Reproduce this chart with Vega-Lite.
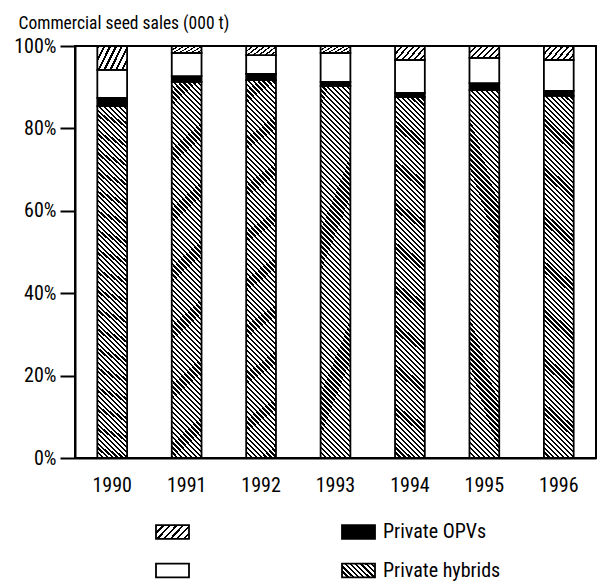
{
  "$schema": "https://vega.github.io/schema/vega-lite/v6.json",
  "width": 521,
  "height": 412,
  "autosize": "none",
  "padding": {"left": 75, "top": 46, "right": 5, "bottom": 125},
  "background": "white",
  "config": {
    "view": {"stroke": "#000", "strokeWidth": 2},
    "font": "Roboto Condensed, DejaVu Sans Condensed, sans-serif"
  },
  "data": {
    "values": [
      {"year": "1990", "series": "Private hybrids", "share": 85.4},
      {"year": "1990", "series": "Private OPVs", "share": 2.0},
      {"year": "1990", "series": "Other seed", "share": 6.8},
      {"year": "1990", "series": "Other hybrids", "share": 5.8},
      {"year": "1991", "series": "Private hybrids", "share": 91.3},
      {"year": "1991", "series": "Private OPVs", "share": 1.4},
      {"year": "1991", "series": "Other seed", "share": 5.6},
      {"year": "1991", "series": "Other hybrids", "share": 1.7},
      {"year": "1992", "series": "Private hybrids", "share": 91.7},
      {"year": "1992", "series": "Private OPVs", "share": 1.5},
      {"year": "1992", "series": "Other seed", "share": 4.6},
      {"year": "1992", "series": "Other hybrids", "share": 2.2},
      {"year": "1993", "series": "Private hybrids", "share": 90.3},
      {"year": "1993", "series": "Private OPVs", "share": 1.0},
      {"year": "1993", "series": "Other seed", "share": 7.0},
      {"year": "1993", "series": "Other hybrids", "share": 1.7},
      {"year": "1994", "series": "Private hybrids", "share": 87.6},
      {"year": "1994", "series": "Private OPVs", "share": 1.0},
      {"year": "1994", "series": "Other seed", "share": 8.0},
      {"year": "1994", "series": "Other hybrids", "share": 3.4},
      {"year": "1995", "series": "Private hybrids", "share": 89.3},
      {"year": "1995", "series": "Private OPVs", "share": 1.7},
      {"year": "1995", "series": "Other seed", "share": 6.1},
      {"year": "1995", "series": "Other hybrids", "share": 2.9},
      {"year": "1996", "series": "Private hybrids", "share": 87.9},
      {"year": "1996", "series": "Private OPVs", "share": 1.2},
      {"year": "1996", "series": "Other seed", "share": 7.5},
      {"year": "1996", "series": "Other hybrids", "share": 3.4}
    ]
  },
  "encoding": {
    "x": {
      "field": "year",
      "type": "ordinal",
      "scale": {"paddingInner": 0.6, "paddingOuter": 0.3},
      "axis": {
        "labelAngle": 0,
        "ticks": false,
        "domainColor": "#000",
        "domainWidth": 2,
        "labelFontSize": 20,
        "labelColor": "#000",
        "labelPadding": 17,
        "title": null
      }
    },
    "y": {
      "field": "share",
      "type": "quantitative",
      "stack": "normalize",
      "axis": {
        "format": ".0%",
        "values": [0, 0.2, 0.4, 0.6, 0.8, 1],
        "tickSize": 15,
        "tickWidth": 2,
        "tickColor": "#000",
        "domainColor": "#000",
        "domainWidth": 2,
        "labelFontSize": 20,
        "labelColor": "#000",
        "labelPadding": 4,
        "grid": false,
        "title": "Commercial seed sales (000 t)",
        "titleAngle": 0,
        "titleAlign": "left",
        "titleBaseline": "alphabetic",
        "titleX": -57,
        "titleY": -18,
        "titleFontSize": 17.5,
        "titleFontWeight": "normal",
        "titleColor": "#000"
      }
    },
    "order": {"field": "series", "sort": "descending"}
  },
  "layer": [
    {
      "mark": {"type": "bar", "stroke": "#000", "strokeWidth": 1.8},
      "encoding": {
        "color": {
          "field": "series",
          "type": "nominal",
          "scale": {
            "domain": ["Other hybrids", "Other seed", "Private OPVs", "Private hybrids"],
            "range": ["url(#oth)", "#ffffff", "#000000", "url(#hybleg)"]
          },
          "condition": [
            {"test": "datum.series === 'Other hybrids'", "value": {"gradient": "linear", "id": "oth", "x1": 0, "y1": 0, "x2": 1.2069, "y2": 0.48276, "stops": [
                {"offset": 0, "color": "#000"}, {"offset": 0.05, "color": "#000"}, {"offset": 0.05, "color": "#fff"}, {"offset": 0.142857, "color": "#fff"},
                {"offset": 0.142857, "color": "#000"}, {"offset": 0.192857, "color": "#000"}, {"offset": 0.192857, "color": "#fff"}, {"offset": 0.285714, "color": "#fff"},
                {"offset": 0.285714, "color": "#000"}, {"offset": 0.335714, "color": "#000"}, {"offset": 0.335714, "color": "#fff"}, {"offset": 0.428571, "color": "#fff"},
                {"offset": 0.428571, "color": "#000"}, {"offset": 0.478571, "color": "#000"}, {"offset": 0.478571, "color": "#fff"}, {"offset": 0.571429, "color": "#fff"},
                {"offset": 0.571429, "color": "#000"}, {"offset": 0.621429, "color": "#000"}, {"offset": 0.621429, "color": "#fff"}, {"offset": 0.714286, "color": "#fff"},
                {"offset": 0.714286, "color": "#000"}, {"offset": 0.764286, "color": "#000"}, {"offset": 0.764286, "color": "#fff"}, {"offset": 0.857143, "color": "#fff"},
                {"offset": 0.857143, "color": "#000"}, {"offset": 0.907143, "color": "#000"}, {"offset": 0.907143, "color": "#fff"}, {"offset": 1, "color": "#fff"}
              ]}},
            {"test": "datum.series === 'Private hybrids'", "value": {"gradient": "linear", "id": "hyb", "x1": 0, "y1": 1, "x2": 0.08784, "y2": -0.07458, "stops": [
                {"offset": 0, "color": "#000"}, {"offset": 0.005625, "color": "#000"}, {"offset": 0.005625, "color": "#fff"}, {"offset": 0.0125, "color": "#fff"},
                {"offset": 0.0125, "color": "#000"}, {"offset": 0.018125, "color": "#000"}, {"offset": 0.018125, "color": "#fff"}, {"offset": 0.025, "color": "#fff"},
                {"offset": 0.025, "color": "#000"}, {"offset": 0.030625, "color": "#000"}, {"offset": 0.030625, "color": "#fff"}, {"offset": 0.0375, "color": "#fff"},
                {"offset": 0.0375, "color": "#000"}, {"offset": 0.043125, "color": "#000"}, {"offset": 0.043125, "color": "#fff"}, {"offset": 0.05, "color": "#fff"},
                {"offset": 0.05, "color": "#000"}, {"offset": 0.055625, "color": "#000"}, {"offset": 0.055625, "color": "#fff"}, {"offset": 0.0625, "color": "#fff"},
                {"offset": 0.0625, "color": "#000"}, {"offset": 0.068125, "color": "#000"}, {"offset": 0.068125, "color": "#fff"}, {"offset": 0.075, "color": "#fff"},
                {"offset": 0.075, "color": "#000"}, {"offset": 0.080625, "color": "#000"}, {"offset": 0.080625, "color": "#fff"}, {"offset": 0.0875, "color": "#fff"},
                {"offset": 0.0875, "color": "#000"}, {"offset": 0.093125, "color": "#000"}, {"offset": 0.093125, "color": "#fff"}, {"offset": 0.1, "color": "#fff"},
                {"offset": 0.1, "color": "#000"}, {"offset": 0.105625, "color": "#000"}, {"offset": 0.105625, "color": "#fff"}, {"offset": 0.1125, "color": "#fff"},
                {"offset": 0.1125, "color": "#000"}, {"offset": 0.118125, "color": "#000"}, {"offset": 0.118125, "color": "#fff"}, {"offset": 0.125, "color": "#fff"},
                {"offset": 0.125, "color": "#000"}, {"offset": 0.130625, "color": "#000"}, {"offset": 0.130625, "color": "#fff"}, {"offset": 0.1375, "color": "#fff"},
                {"offset": 0.1375, "color": "#000"}, {"offset": 0.143125, "color": "#000"}, {"offset": 0.143125, "color": "#fff"}, {"offset": 0.15, "color": "#fff"},
                {"offset": 0.15, "color": "#000"}, {"offset": 0.155625, "color": "#000"}, {"offset": 0.155625, "color": "#fff"}, {"offset": 0.1625, "color": "#fff"},
                {"offset": 0.1625, "color": "#000"}, {"offset": 0.168125, "color": "#000"}, {"offset": 0.168125, "color": "#fff"}, {"offset": 0.175, "color": "#fff"},
                {"offset": 0.175, "color": "#000"}, {"offset": 0.180625, "color": "#000"}, {"offset": 0.180625, "color": "#fff"}, {"offset": 0.1875, "color": "#fff"},
                {"offset": 0.1875, "color": "#000"}, {"offset": 0.193125, "color": "#000"}, {"offset": 0.193125, "color": "#fff"}, {"offset": 0.2, "color": "#fff"},
                {"offset": 0.2, "color": "#000"}, {"offset": 0.205625, "color": "#000"}, {"offset": 0.205625, "color": "#fff"}, {"offset": 0.2125, "color": "#fff"},
                {"offset": 0.2125, "color": "#000"}, {"offset": 0.218125, "color": "#000"}, {"offset": 0.218125, "color": "#fff"}, {"offset": 0.225, "color": "#fff"},
                {"offset": 0.225, "color": "#000"}, {"offset": 0.230625, "color": "#000"}, {"offset": 0.230625, "color": "#fff"}, {"offset": 0.2375, "color": "#fff"},
                {"offset": 0.2375, "color": "#000"}, {"offset": 0.243125, "color": "#000"}, {"offset": 0.243125, "color": "#fff"}, {"offset": 0.25, "color": "#fff"},
                {"offset": 0.25, "color": "#000"}, {"offset": 0.255625, "color": "#000"}, {"offset": 0.255625, "color": "#fff"}, {"offset": 0.2625, "color": "#fff"},
                {"offset": 0.2625, "color": "#000"}, {"offset": 0.268125, "color": "#000"}, {"offset": 0.268125, "color": "#fff"}, {"offset": 0.275, "color": "#fff"},
                {"offset": 0.275, "color": "#000"}, {"offset": 0.280625, "color": "#000"}, {"offset": 0.280625, "color": "#fff"}, {"offset": 0.2875, "color": "#fff"},
                {"offset": 0.2875, "color": "#000"}, {"offset": 0.293125, "color": "#000"}, {"offset": 0.293125, "color": "#fff"}, {"offset": 0.3, "color": "#fff"},
                {"offset": 0.3, "color": "#000"}, {"offset": 0.305625, "color": "#000"}, {"offset": 0.305625, "color": "#fff"}, {"offset": 0.3125, "color": "#fff"},
                {"offset": 0.3125, "color": "#000"}, {"offset": 0.318125, "color": "#000"}, {"offset": 0.318125, "color": "#fff"}, {"offset": 0.325, "color": "#fff"},
                {"offset": 0.325, "color": "#000"}, {"offset": 0.330625, "color": "#000"}, {"offset": 0.330625, "color": "#fff"}, {"offset": 0.3375, "color": "#fff"},
                {"offset": 0.3375, "color": "#000"}, {"offset": 0.343125, "color": "#000"}, {"offset": 0.343125, "color": "#fff"}, {"offset": 0.35, "color": "#fff"},
                {"offset": 0.35, "color": "#000"}, {"offset": 0.355625, "color": "#000"}, {"offset": 0.355625, "color": "#fff"}, {"offset": 0.3625, "color": "#fff"},
                {"offset": 0.3625, "color": "#000"}, {"offset": 0.368125, "color": "#000"}, {"offset": 0.368125, "color": "#fff"}, {"offset": 0.375, "color": "#fff"},
                {"offset": 0.375, "color": "#000"}, {"offset": 0.380625, "color": "#000"}, {"offset": 0.380625, "color": "#fff"}, {"offset": 0.3875, "color": "#fff"},
                {"offset": 0.3875, "color": "#000"}, {"offset": 0.393125, "color": "#000"}, {"offset": 0.393125, "color": "#fff"}, {"offset": 0.4, "color": "#fff"},
                {"offset": 0.4, "color": "#000"}, {"offset": 0.405625, "color": "#000"}, {"offset": 0.405625, "color": "#fff"}, {"offset": 0.4125, "color": "#fff"},
                {"offset": 0.4125, "color": "#000"}, {"offset": 0.418125, "color": "#000"}, {"offset": 0.418125, "color": "#fff"}, {"offset": 0.425, "color": "#fff"},
                {"offset": 0.425, "color": "#000"}, {"offset": 0.430625, "color": "#000"}, {"offset": 0.430625, "color": "#fff"}, {"offset": 0.4375, "color": "#fff"},
                {"offset": 0.4375, "color": "#000"}, {"offset": 0.443125, "color": "#000"}, {"offset": 0.443125, "color": "#fff"}, {"offset": 0.45, "color": "#fff"},
                {"offset": 0.45, "color": "#000"}, {"offset": 0.455625, "color": "#000"}, {"offset": 0.455625, "color": "#fff"}, {"offset": 0.4625, "color": "#fff"},
                {"offset": 0.4625, "color": "#000"}, {"offset": 0.468125, "color": "#000"}, {"offset": 0.468125, "color": "#fff"}, {"offset": 0.475, "color": "#fff"},
                {"offset": 0.475, "color": "#000"}, {"offset": 0.480625, "color": "#000"}, {"offset": 0.480625, "color": "#fff"}, {"offset": 0.4875, "color": "#fff"},
                {"offset": 0.4875, "color": "#000"}, {"offset": 0.493125, "color": "#000"}, {"offset": 0.493125, "color": "#fff"}, {"offset": 0.5, "color": "#fff"},
                {"offset": 0.5, "color": "#000"}, {"offset": 0.505625, "color": "#000"}, {"offset": 0.505625, "color": "#fff"}, {"offset": 0.5125, "color": "#fff"},
                {"offset": 0.5125, "color": "#000"}, {"offset": 0.518125, "color": "#000"}, {"offset": 0.518125, "color": "#fff"}, {"offset": 0.525, "color": "#fff"},
                {"offset": 0.525, "color": "#000"}, {"offset": 0.530625, "color": "#000"}, {"offset": 0.530625, "color": "#fff"}, {"offset": 0.5375, "color": "#fff"},
                {"offset": 0.5375, "color": "#000"}, {"offset": 0.543125, "color": "#000"}, {"offset": 0.543125, "color": "#fff"}, {"offset": 0.55, "color": "#fff"},
                {"offset": 0.55, "color": "#000"}, {"offset": 0.555625, "color": "#000"}, {"offset": 0.555625, "color": "#fff"}, {"offset": 0.5625, "color": "#fff"},
                {"offset": 0.5625, "color": "#000"}, {"offset": 0.568125, "color": "#000"}, {"offset": 0.568125, "color": "#fff"}, {"offset": 0.575, "color": "#fff"},
                {"offset": 0.575, "color": "#000"}, {"offset": 0.580625, "color": "#000"}, {"offset": 0.580625, "color": "#fff"}, {"offset": 0.5875, "color": "#fff"},
                {"offset": 0.5875, "color": "#000"}, {"offset": 0.593125, "color": "#000"}, {"offset": 0.593125, "color": "#fff"}, {"offset": 0.6, "color": "#fff"},
                {"offset": 0.6, "color": "#000"}, {"offset": 0.605625, "color": "#000"}, {"offset": 0.605625, "color": "#fff"}, {"offset": 0.6125, "color": "#fff"},
                {"offset": 0.6125, "color": "#000"}, {"offset": 0.618125, "color": "#000"}, {"offset": 0.618125, "color": "#fff"}, {"offset": 0.625, "color": "#fff"},
                {"offset": 0.625, "color": "#000"}, {"offset": 0.630625, "color": "#000"}, {"offset": 0.630625, "color": "#fff"}, {"offset": 0.6375, "color": "#fff"},
                {"offset": 0.6375, "color": "#000"}, {"offset": 0.643125, "color": "#000"}, {"offset": 0.643125, "color": "#fff"}, {"offset": 0.65, "color": "#fff"},
                {"offset": 0.65, "color": "#000"}, {"offset": 0.655625, "color": "#000"}, {"offset": 0.655625, "color": "#fff"}, {"offset": 0.6625, "color": "#fff"},
                {"offset": 0.6625, "color": "#000"}, {"offset": 0.668125, "color": "#000"}, {"offset": 0.668125, "color": "#fff"}, {"offset": 0.675, "color": "#fff"},
                {"offset": 0.675, "color": "#000"}, {"offset": 0.680625, "color": "#000"}, {"offset": 0.680625, "color": "#fff"}, {"offset": 0.6875, "color": "#fff"},
                {"offset": 0.6875, "color": "#000"}, {"offset": 0.693125, "color": "#000"}, {"offset": 0.693125, "color": "#fff"}, {"offset": 0.7, "color": "#fff"},
                {"offset": 0.7, "color": "#000"}, {"offset": 0.705625, "color": "#000"}, {"offset": 0.705625, "color": "#fff"}, {"offset": 0.7125, "color": "#fff"},
                {"offset": 0.7125, "color": "#000"}, {"offset": 0.718125, "color": "#000"}, {"offset": 0.718125, "color": "#fff"}, {"offset": 0.725, "color": "#fff"},
                {"offset": 0.725, "color": "#000"}, {"offset": 0.730625, "color": "#000"}, {"offset": 0.730625, "color": "#fff"}, {"offset": 0.7375, "color": "#fff"},
                {"offset": 0.7375, "color": "#000"}, {"offset": 0.743125, "color": "#000"}, {"offset": 0.743125, "color": "#fff"}, {"offset": 0.75, "color": "#fff"},
                {"offset": 0.75, "color": "#000"}, {"offset": 0.755625, "color": "#000"}, {"offset": 0.755625, "color": "#fff"}, {"offset": 0.7625, "color": "#fff"},
                {"offset": 0.7625, "color": "#000"}, {"offset": 0.768125, "color": "#000"}, {"offset": 0.768125, "color": "#fff"}, {"offset": 0.775, "color": "#fff"},
                {"offset": 0.775, "color": "#000"}, {"offset": 0.780625, "color": "#000"}, {"offset": 0.780625, "color": "#fff"}, {"offset": 0.7875, "color": "#fff"},
                {"offset": 0.7875, "color": "#000"}, {"offset": 0.793125, "color": "#000"}, {"offset": 0.793125, "color": "#fff"}, {"offset": 0.8, "color": "#fff"},
                {"offset": 0.8, "color": "#000"}, {"offset": 0.805625, "color": "#000"}, {"offset": 0.805625, "color": "#fff"}, {"offset": 0.8125, "color": "#fff"},
                {"offset": 0.8125, "color": "#000"}, {"offset": 0.818125, "color": "#000"}, {"offset": 0.818125, "color": "#fff"}, {"offset": 0.825, "color": "#fff"},
                {"offset": 0.825, "color": "#000"}, {"offset": 0.830625, "color": "#000"}, {"offset": 0.830625, "color": "#fff"}, {"offset": 0.8375, "color": "#fff"},
                {"offset": 0.8375, "color": "#000"}, {"offset": 0.843125, "color": "#000"}, {"offset": 0.843125, "color": "#fff"}, {"offset": 0.85, "color": "#fff"},
                {"offset": 0.85, "color": "#000"}, {"offset": 0.855625, "color": "#000"}, {"offset": 0.855625, "color": "#fff"}, {"offset": 0.8625, "color": "#fff"},
                {"offset": 0.8625, "color": "#000"}, {"offset": 0.868125, "color": "#000"}, {"offset": 0.868125, "color": "#fff"}, {"offset": 0.875, "color": "#fff"},
                {"offset": 0.875, "color": "#000"}, {"offset": 0.880625, "color": "#000"}, {"offset": 0.880625, "color": "#fff"}, {"offset": 0.8875, "color": "#fff"},
                {"offset": 0.8875, "color": "#000"}, {"offset": 0.893125, "color": "#000"}, {"offset": 0.893125, "color": "#fff"}, {"offset": 0.9, "color": "#fff"},
                {"offset": 0.9, "color": "#000"}, {"offset": 0.905625, "color": "#000"}, {"offset": 0.905625, "color": "#fff"}, {"offset": 0.9125, "color": "#fff"},
                {"offset": 0.9125, "color": "#000"}, {"offset": 0.918125, "color": "#000"}, {"offset": 0.918125, "color": "#fff"}, {"offset": 0.925, "color": "#fff"},
                {"offset": 0.925, "color": "#000"}, {"offset": 0.930625, "color": "#000"}, {"offset": 0.930625, "color": "#fff"}, {"offset": 0.9375, "color": "#fff"},
                {"offset": 0.9375, "color": "#000"}, {"offset": 0.943125, "color": "#000"}, {"offset": 0.943125, "color": "#fff"}, {"offset": 0.95, "color": "#fff"},
                {"offset": 0.95, "color": "#000"}, {"offset": 0.955625, "color": "#000"}, {"offset": 0.955625, "color": "#fff"}, {"offset": 0.9625, "color": "#fff"},
                {"offset": 0.9625, "color": "#000"}, {"offset": 0.968125, "color": "#000"}, {"offset": 0.968125, "color": "#fff"}, {"offset": 0.975, "color": "#fff"},
                {"offset": 0.975, "color": "#000"}, {"offset": 0.980625, "color": "#000"}, {"offset": 0.980625, "color": "#fff"}, {"offset": 0.9875, "color": "#fff"},
                {"offset": 0.9875, "color": "#000"}, {"offset": 0.993125, "color": "#000"}, {"offset": 0.993125, "color": "#fff"}, {"offset": 1, "color": "#fff"}
              ]}}
          ],
          "legend": {
            "orient": "none",
            "legendX": 80,
            "legendY": 468,
            "columns": 2,
            "columnPadding": 141,
            "rowPadding": 10,
            "title": null,
            "symbolType": "M-1,-0.42H1V0.42H-1Z",
            "symbolSize": 1089,
            "symbolStrokeColor": "#000",
            "symbolStrokeWidth": 1.8,
            "symbolOpacity": 1,
            "labelFontSize": 20,
            "labelColor": "#000",
            "labelOffset": 7,
            "labelExpr": "indexof(datum.label, 'Private') === 0 ? datum.label : ''"
          }
        }
      }
    },
    {
      "transform": [{"filter": "datum.year === '1990' && datum.series === 'Private hybrids'"}],
      "mark": {
        "type": "bar",
        "opacity": 0.002,
        "color": {"gradient": "linear", "id": "hybleg", "x1": 0, "y1": 1, "x2": 1.207, "y2": 0.488, "stops": [
          {"offset": 0, "color": "#000"}, {"offset": 0.05, "color": "#000"}, {"offset": 0.05, "color": "#fff"}, {"offset": 0.111111, "color": "#fff"},
          {"offset": 0.111111, "color": "#000"}, {"offset": 0.161111, "color": "#000"}, {"offset": 0.161111, "color": "#fff"}, {"offset": 0.222222, "color": "#fff"},
          {"offset": 0.222222, "color": "#000"}, {"offset": 0.272222, "color": "#000"}, {"offset": 0.272222, "color": "#fff"}, {"offset": 0.333333, "color": "#fff"},
          {"offset": 0.333333, "color": "#000"}, {"offset": 0.383333, "color": "#000"}, {"offset": 0.383333, "color": "#fff"}, {"offset": 0.444444, "color": "#fff"},
          {"offset": 0.444444, "color": "#000"}, {"offset": 0.494444, "color": "#000"}, {"offset": 0.494444, "color": "#fff"}, {"offset": 0.555556, "color": "#fff"},
          {"offset": 0.555556, "color": "#000"}, {"offset": 0.605556, "color": "#000"}, {"offset": 0.605556, "color": "#fff"}, {"offset": 0.666667, "color": "#fff"},
          {"offset": 0.666667, "color": "#000"}, {"offset": 0.716667, "color": "#000"}, {"offset": 0.716667, "color": "#fff"}, {"offset": 0.777778, "color": "#fff"},
          {"offset": 0.777778, "color": "#000"}, {"offset": 0.827778, "color": "#000"}, {"offset": 0.827778, "color": "#fff"}, {"offset": 0.888889, "color": "#fff"},
          {"offset": 0.888889, "color": "#000"}, {"offset": 0.938889, "color": "#000"}, {"offset": 0.938889, "color": "#fff"}, {"offset": 1, "color": "#fff"}
        ]}
      }
    }
  ]
}
